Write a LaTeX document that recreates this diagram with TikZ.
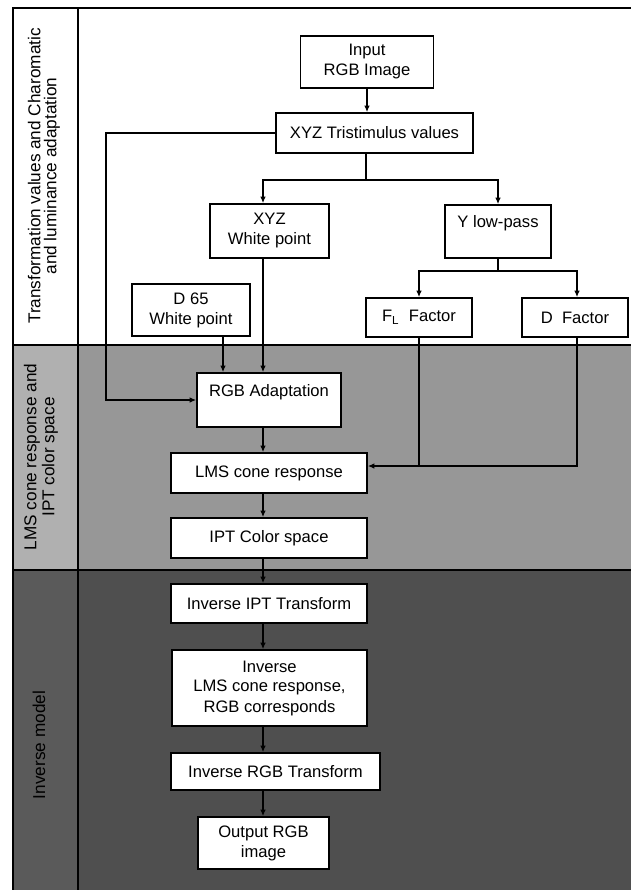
\documentclass[tikz,border=0pt]{standalone}
\usepackage{fontspec}
\setmainfont{Liberation Sans}
\usetikzlibrary{arrows.meta,calc}
\definecolor{midband}{HTML}{979797}
\definecolor{midleft}{HTML}{B0B0B0}
\definecolor{lowband}{HTML}{4F4F4F}
\definecolor{lowleft}{HTML}{5A5A5A}
\begin{document}
\begin{tikzpicture}[x=0.5pt,y=-0.5pt,
  box/.style={draw=black, fill=white, line width=0.9pt, inner sep=0pt, align=center, font=\fontsize{8.3}{10}\selectfont},
  wh/.style 2 args={minimum width=#1*0.5pt, minimum height=#2*0.5pt},
  arr/.style={draw=black, line width=0.6pt, -{Latex[length=3.2pt,width=2.8pt]}},
  ln/.style={draw=black, line width=0.6pt},
  frame/.style={draw=black, line width=0.9pt},
  lab/.style={rotate=90, align=center, font=\fontsize{8.6}{8}\selectfont}]
\useasboundingbox (0,0) rectangle (631,890);
\fill[white] (0,0) rectangle (631,890);
% bands
\fill[midband] (13,345) rectangle (631,570);
\fill[midleft] (13,345) rectangle (78,570);
\fill[lowband] (13,570) rectangle (631,890);
\fill[lowleft] (13,570) rectangle (78,890);
\draw[frame] (631,8) -- (13,8) -- (13,890);
\draw[frame] (78,8) -- (78,890);
\draw[frame] (13,345) -- (631,345);
\draw[frame] (13,570) -- (631,570);
% labels
\node[lab] (l1) at (44,176) {Transformation values and Charomatic\\and luminance adaptation};
\node[lab] (l2) at (41,457) {LMS cone response and\\IPT color space};
\node[lab] (l3) at (39,745) {Inverse model};
% nodes
\node[box, wh={133}{52}] (input) at (367,62) {Input\\RGB Image};
\node[box, wh={197}{40}] (xyz) at (374.5,133) {XYZ Tristimulus values};
\node[box, wh={119}{54}] (xyzwp) at (269.5,231) {XYZ\\White point};
\node[box, wh={106}{53}] (ylp) at (498,231.5) {Y low-pass\\\mbox{}};
\node[box, wh={118}{52}] (d65) at (191,310) {D 65\\White point};
\node[box, wh={106}{39}] (fl) at (419,317.5) {F\textsubscript{L}\ \ Factor};
\node[box, wh={106}{39}] (dfac) at (575,317.5) {D\ \ Factor};
\node[box, wh={144}{54}] (rgba) at (269,400) {RGB Adaptation\\\mbox{}};
\node[box, wh={196}{40}] (lms) at (269,473) {LMS cone response};
\node[box, wh={196}{40}] (ipt) at (269,538) {IPT Color space};
\node[box, wh={196}{39}] (iipt) at (269,603.5) {Inverse IPT Transform};
\node[box, wh={195}{76}] (ilms) at (269.5,688) {Inverse\\LMS cone response,\\RGB corresponds};
\node[box, wh={209}{37}] (irgb) at (275.5,771.5) {Inverse RGB Transform};
\node[box, wh={131}{52}] (out) at (263.5,843) {Output RGB\\image};
% helper coordinates
\coordinate (ax) at (263,0);
\coordinate (j1) at (366,180);
\coordinate (j2) at (498,271);
\coordinate (lft) at (106,0);
\coordinate (d65x) at (223,0);
\coordinate (wpx) at (263,0);
\coordinate (dx) at (577,0);
\coordinate (jy) at (0,466);
% connectors
\draw[arr] (input.south) -- (input.south |- xyz.north);
\draw[ln] (xyz.south -| j1) -- (j1);
\draw[arr] (j1) -| (xyzwp.north -| wpx);
\draw[arr] (j1) -| (ylp.north);
\draw[arr] (xyz.west) -- (xyz.west -| lft) -- (lft |- rgba.west) -- (rgba.west);
\draw[arr] (d65.south -| d65x) -- (rgba.north -| d65x);
\draw[arr] (xyzwp.south -| wpx) -- (rgba.north -| wpx);
\draw[ln] (ylp.south) -- (j2);
\draw[arr] (j2) -| (fl.north);
\draw[arr] (j2) -| (dfac.north -| dx);
\draw[ln] (fl.south) -- (fl.south |- jy);
\draw[arr] (dfac.south -| dx) |- (lms.east |- jy);
\draw[arr] (rgba.south -| ax) -- (lms.north -| ax);
\draw[arr] (lms.south -| ax) -- (ipt.north -| ax);
\draw[arr] (ipt.south -| ax) -- (iipt.north -| ax);
\draw[arr] (iipt.south -| ax) -- (ilms.north -| ax);
\draw[arr] (ilms.south -| ax) -- (irgb.north -| ax);
\draw[arr] (irgb.south -| ax) -- (out.north -| ax);
\end{tikzpicture}
\end{document}
